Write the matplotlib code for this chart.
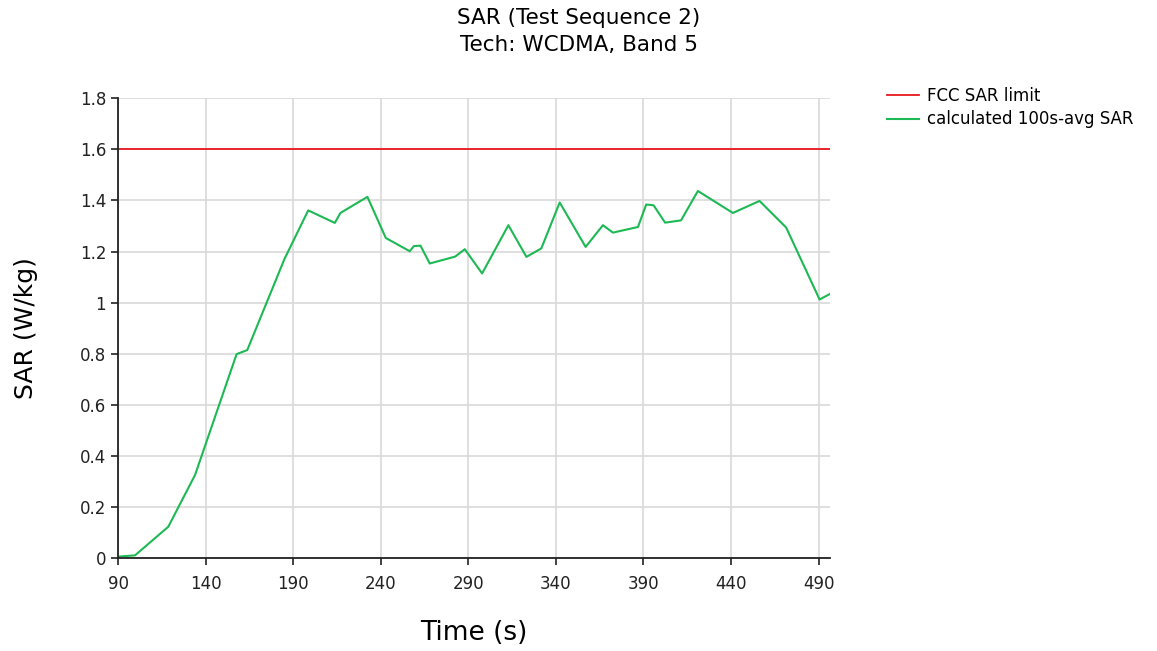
import matplotlib
matplotlib.use("Agg")
import matplotlib.pyplot as plt

# SAR time series
time_s = [90, 99.7, 118.7, 134, 157.7, 163.8, 185, 198.6, 213.8, 217, 232.4,
          242.9, 256.6, 258.9, 262.7, 268, 282.5, 288, 297.9, 312.9, 323.2,
          331.7, 342.2, 357, 366.9, 372.6, 386.9, 391.6, 395.8, 402.4, 411.5,
          421.1, 441.1, 456.3, 471.5, 490.6, 496.3]
sar_avg = [0.005, 0.01, 0.122, 0.325, 0.798, 0.814, 1.17, 1.361, 1.312, 1.351,
           1.414, 1.253, 1.201, 1.221, 1.223, 1.153, 1.180, 1.209, 1.114, 1.303,
           1.179, 1.212, 1.392, 1.218, 1.303, 1.274, 1.296, 1.384, 1.381, 1.313,
           1.322, 1.437, 1.351, 1.398, 1.294, 1.012, 1.033]
fcc_limit = 1.6

x_ticks = [90, 140, 190, 240, 290, 340, 390, 440, 490]
y_ticks = [0, 0.2, 0.4, 0.6, 0.8, 1, 1.2, 1.4, 1.6, 1.8]
y_labels = ["0", "0.2", "0.4", "0.6", "0.8", "1", "1.2", "1.4", "1.6", "1.8"]

fig = plt.figure(figsize=(11.57, 6.51), dpi=100)
ax = fig.add_axes([0.102, 0.143, 0.615, 0.706])

ax.axhline(fcc_limit, color="#e8171c", lw=1.3, label="FCC SAR limit")
ax.plot(time_s, sar_avg, color="#1db954", lw=1.5, label="calculated 100s-avg SAR")

ax.set_xlim(90, 496.3)
ax.set_ylim(0, 1.8)
ax.set_xticks(x_ticks)
ax.set_yticks(y_ticks)
ax.set_yticklabels(y_labels)
ax.grid(True, color="#d9d9d9", lw=1.2)
ax.set_axisbelow(True)

for s in ["top", "right"]:
    ax.spines[s].set_visible(False)
for s in ["left", "bottom"]:
    ax.spines[s].set_color("#222222")
    ax.spines[s].set_linewidth(1.3)
ax.tick_params(axis="both", labelsize=12, colors="#222222", length=5, width=1.2)
ax.tick_params(axis="x", pad=7)

ax.set_xlabel("Time (s)", fontsize=19, labelpad=20)
ax.set_ylabel("SAR (W/kg)", fontsize=18, labelpad=30)
fig.text(0.5, 0.973, "SAR (Test Sequence 2)", ha="center", va="center", fontsize=15.5)
fig.text(0.5, 0.931, "Tech: WCDMA, Band 5", ha="center", va="center", fontsize=15.5)

ax.legend(loc="upper left", bbox_to_anchor=(1.06, 1.058), frameon=False,
          fontsize=12, handlelength=1.9, handletextpad=0.5, labelspacing=0.35)

fig.savefig("out.png", dpi=100)
